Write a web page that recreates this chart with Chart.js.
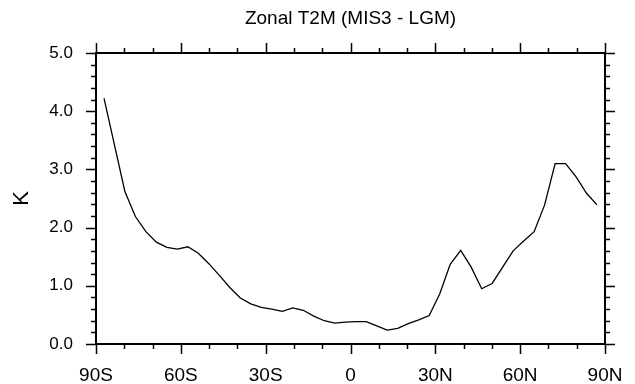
<!DOCTYPE html>
<html>
<head>
<meta charset="utf-8">
<script src="https://cdn.jsdelivr.net/npm/chart.js@4"></script>
<style>
  html, body { margin: 0; padding: 0; background: #fff; }
  #wrap { width: 635px; height: 384px; }
</style>
</head>
<body>
<div id="wrap"><canvas id="zonalChart" width="635" height="384"></canvas></div>
<script>
// T31 gaussian latitudes (deg)
const lats = [
  -87.16, -83.48, -79.78, -76.07, -72.36, -68.65, -64.94, -61.23,
  -57.52, -53.81, -50.10, -46.39, -42.68, -38.97, -35.26, -31.54,
  -27.83, -24.12, -20.41, -16.70, -12.99, -9.28, -5.57, -1.86,
  1.86, 5.57, 9.28, 12.99, 16.70, 20.41, 24.12, 27.83,
  31.54, 35.26, 38.97, 42.68, 46.39, 50.10, 53.81, 57.52,
  61.23, 64.94, 68.65, 72.36, 76.07, 79.78, 83.48, 87.16
];

// zonal mean T2M difference MIS3 - LGM (K)
const dT2M = [
  4.22, 3.42, 2.62, 2.19, 1.93, 1.75, 1.66, 1.63,
  1.67, 1.56, 1.38, 1.18, 0.97, 0.79, 0.69, 0.63,
  0.60, 0.56, 0.62, 0.58, 0.48, 0.40, 0.36, 0.375,
  0.385, 0.385, 0.31, 0.24, 0.27, 0.35, 0.415, 0.49,
  0.86, 1.37, 1.61, 1.32, 0.95, 1.04, 1.32, 1.60,
  1.77, 1.93, 2.39, 3.10, 3.10, 2.87, 2.59, 2.39
];

const xTickLabels = { "-90": "90S", "-60": "60S", "-30": "30S", "0": "0", "30": "30N", "60": "60N", "90": "90N" };
const yTicks = [0, 1, 2, 3, 4, 5];

const FONT = "'Liberation Sans', Arial, Helvetica, sans-serif";

// frame + outward tick marks on all four sides (NCL style)
const frameTicks = {
  id: "frameTicks",
  afterDraw(chart) {
    const { ctx, chartArea: a, scales } = chart;
    const x = scales.x, y = scales.y;
    ctx.save();
    ctx.strokeStyle = "#000";
    ctx.lineWidth = 1.5;
    ctx.beginPath();
    for (let v = -90; v <= 90; v += 10) {
      const px = Math.round(x.getPixelForValue(v)) + 0.5;
      const len = v % 30 === 0 ? 10 : 5;
      ctx.moveTo(px, a.bottom); ctx.lineTo(px, a.bottom + len);
      ctx.moveTo(px, a.top); ctx.lineTo(px, a.top - len);
    }
    for (let i = 0; i <= 25; i++) {
      const py = Math.round(y.getPixelForValue(i * 0.2)) + 0.5;
      const len = i % 5 === 0 ? 10 : 5;
      ctx.moveTo(a.left, py); ctx.lineTo(a.left - len, py);
      ctx.moveTo(a.right, py); ctx.lineTo(a.right + len, py);
    }
    ctx.stroke();
    ctx.lineWidth = 2;
    ctx.strokeRect(a.left, a.top, a.right - a.left, a.bottom - a.top);
    ctx.restore();
  }
};

new Chart(document.getElementById("zonalChart"), {
  type: "line",
  data: {
    datasets: [{
      label: "MIS3 - LGM",
      data: lats.map((lat, i) => ({ x: lat, y: dT2M[i] })),
      borderColor: "#000",
      borderWidth: 1.3,
      pointRadius: 0,
      tension: 0,
      fill: false
    }]
  },
  options: {
    responsive: false,
    animation: false,
    devicePixelRatio: 1,
    layout: { padding: { left: 0, right: 30, top: 0, bottom: 0 } },
    plugins: {
      legend: { display: false },
      tooltip: { enabled: false },
      title: { display: false }
    },
    scales: {
      x: {
        type: "linear",
        min: -90,
        max: 90,
        grid: { display: false, drawTicks: false },
        border: { display: false },
        ticks: {
          stepSize: 30,
          padding: 20,
          color: "#000",
          maxRotation: 0,
          font: { family: FONT, size: 19 },
          callback: (v) => xTickLabels[String(v)] ?? ""
        },
        afterFit: (s) => { s.height = 40; s.paddingLeft = 0; s.paddingRight = 0; }
      },
      // top axis only carries the plot title, centred on the plot frame
      xTop: {
        type: "linear",
        position: "top",
        min: -90,
        max: 90,
        grid: { display: false, drawTicks: false },
        border: { display: false },
        ticks: { display: false },
        title: {
          display: true,
          text: "Zonal T2M (MIS3 - LGM)",
          color: "#000",
          font: { family: FONT, size: 19 },
          padding: { top: 7.6, bottom: 0 }
        },
        afterFit: (s) => { s.height = 53; s.paddingLeft = 0; s.paddingRight = 0; }
      },
      y: {
        min: 0,
        max: 5,
        grid: { display: false, drawTicks: false },
        border: { display: false },
        afterBuildTicks: (s) => { s.ticks = yTicks.map((v) => ({ value: v })); },
        ticks: {
          padding: 23,
          color: "#000",
          font: { family: FONT, size: 17 },
          callback: (v) => Number(v).toFixed(1)
        },
        title: {
          display: true,
          text: "K",
          color: "#000",
          font: { family: FONT, size: 22 },
          padding: { top: 8.8, bottom: 0 }
        },
        afterFit: (s) => { s.width = 96; s.paddingTop = 0; s.paddingBottom = 0; }
      }
    }
  },
  plugins: [frameTicks]
});
</script>
</body>
</html>
